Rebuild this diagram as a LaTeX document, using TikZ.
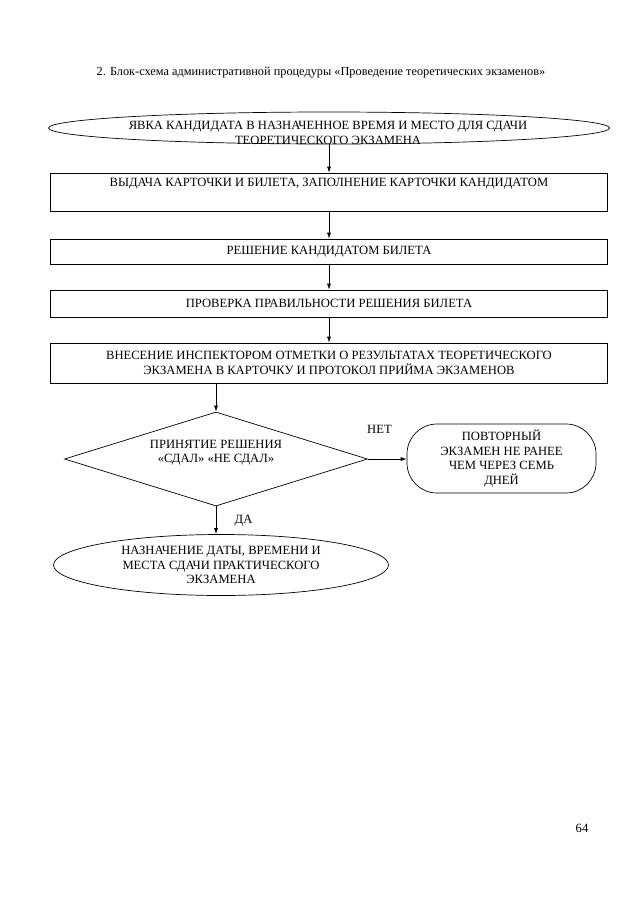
\documentclass[tikz,border=0pt]{standalone}
\usepackage{fontspec}
\setmainfont{Liberation Serif}
\usetikzlibrary{shapes.geometric,arrows.meta}

\begin{document}
\begin{tikzpicture}[x=1pt,y=-1pt,line width=0.7pt,
  every node/.style={font=\fontsize{12.6}{14.5}\selectfont, align=center},
  blok/.style={draw, shape=rectangle, minimum width=557pt, inner sep=0pt},
  oval/.style={draw, shape=ellipse, inner sep=0pt},
  romb/.style={draw, shape=diamond, minimum width=303pt, minimum height=94pt, inner sep=0pt},
  strelka/.style={-{Latex[length=6pt,width=4pt]}}]

\useasboundingbox (0,0) rectangle (640,905);

\node[font=\fontsize{12.3}{14}\selectfont] (zagolovok) at (321,73) {2. Блок-схема административной процедуры «Проведение теоретических экзаменов»};

\node[oval, minimum width=561pt, minimum height=32pt] (yavka) at (329,128) {};
\node (yavkaText) at (328,133) {ЯВКА КАНДИДАТА В НАЗНАЧЕННОЕ ВРЕМЯ И МЕСТО ДЛЯ СДАЧИ\\ТЕОРЕТИЧЕСКОГО ЭКЗАМЕНА};

\node[blok, minimum height=38pt] (vydacha) at (329,192) {ВЫДАЧА КАРТОЧКИ И БИЛЕТА, ЗАПОЛНЕНИЕ КАРТОЧКИ КАНДИДАТОМ\\ \strut};
\node[blok, minimum height=25pt] (reshenieBileta) at (329,251.5) {РЕШЕНИЕ КАНДИДАТОМ БИЛЕТА};
\node[blok, minimum height=27pt] (proverka) at (329,303.5) {ПРОВЕРКА ПРАВИЛЬНОСТИ РЕШЕНИЯ БИЛЕТА};
\node[blok, minimum height=40pt] (vnesenie) at (329,363) {ВНЕСЕНИЕ ИНСПЕКТОРОМ ОТМЕТКИ О РЕЗУЛЬТАТАХ ТЕОРЕТИЧЕСКОГО\\ЭКЗАМЕНА В КАРТОЧКУ И ПРОТОКОЛ ПРИЙМА ЭКЗАМЕНОВ};

\node[romb] (reshenie) at (216,459) {};
\node (reshenieText) at (216,452.5) {ПРИНЯТИЕ РЕШЕНИЯ\\«СДАЛ» «НЕ СДАЛ»};

\node[draw, rounded corners=30pt, minimum width=189pt, minimum height=69pt, inner sep=0pt] (povtor) at (501.5,458.5) {ПОВТОРНЫЙ\\ЭКЗАМЕН НЕ РАНЕЕ\\ЧЕМ ЧЕРЕЗ СЕМЬ\\ДНЕЙ};

\node[oval, minimum width=335pt, minimum height=61pt] (naznachenie) at (221,565) {НАЗНАЧЕНИЕ ДАТЫ, ВРЕМЕНИ И\\МЕСТА СДАЧИ ПРАКТИЧЕСКОГО\\ЭКЗАМЕНА};

\node (nomer) at (582,828) {64};

\path (yavka.south) edge[strelka] (vydacha.north);
\path (vydacha) edge[strelka] (reshenieBileta);
\path (reshenieBileta) edge[strelka] (proverka);
\path (proverka) edge[strelka] (vnesenie);
\path (vnesenie.south -| reshenie.north) edge[strelka] (reshenie.north);
\path (reshenie.east) edge[strelka] node[above=22pt, pos=0.3] (net) {НЕТ} (reshenie.east -| povtor.west);
\path (reshenie.south) edge[strelka] node[right=15pt] (da) {ДА} (reshenie.south |- naznachenie.north);

\end{tikzpicture}
\end{document}
